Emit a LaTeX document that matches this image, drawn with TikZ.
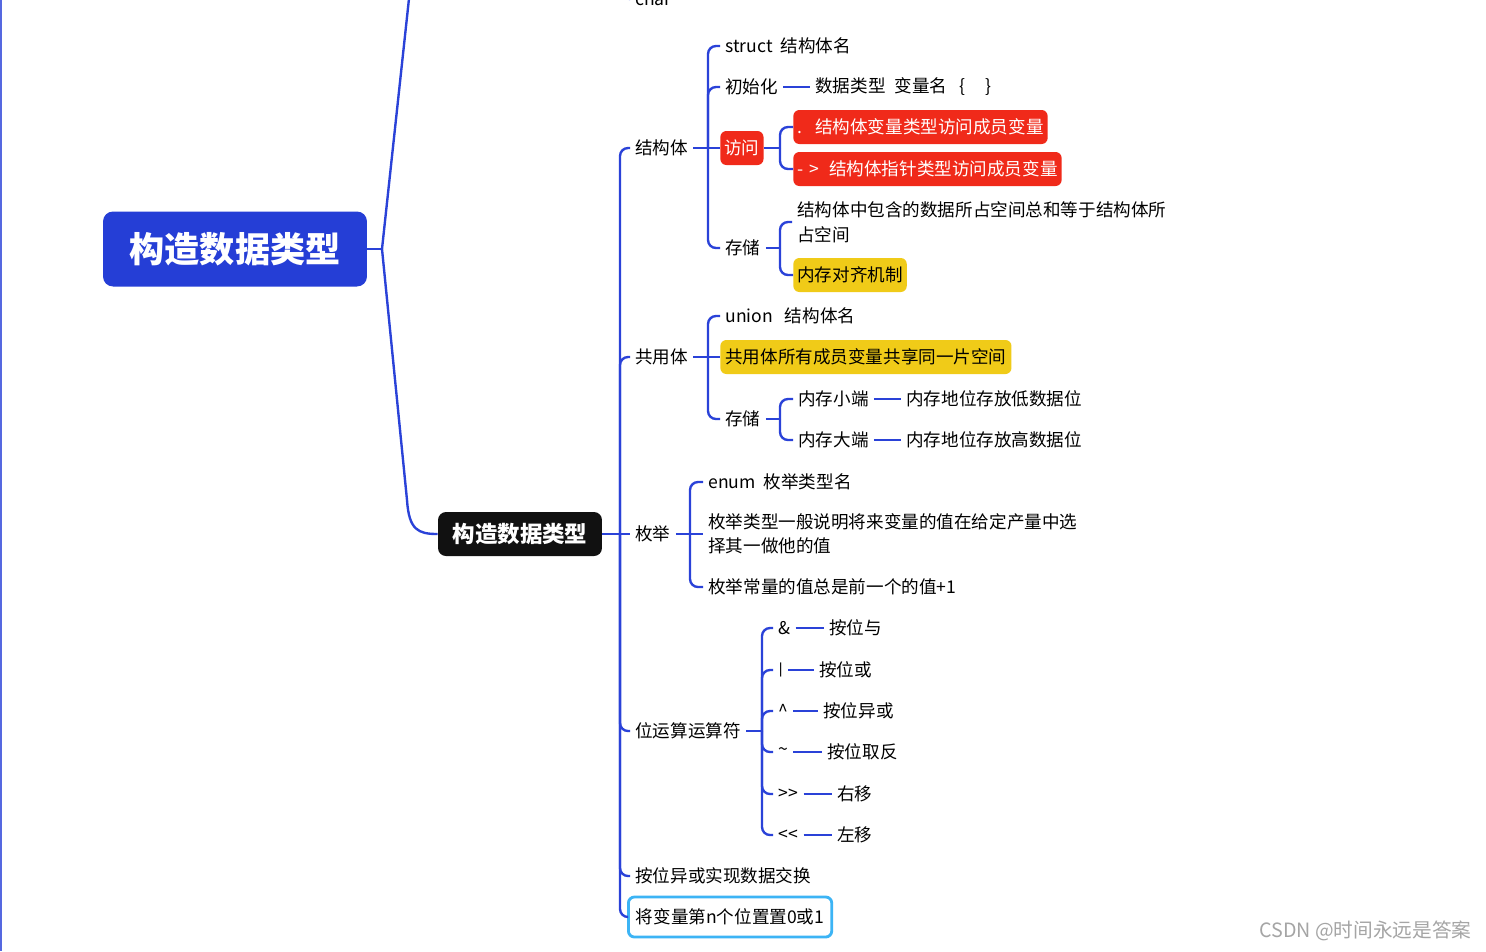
\documentclass[tikz,border=0pt]{standalone}
\usepackage{fontspec}
\setmainfont{Noto Sans CJK SC}
\definecolor{lnblue}{RGB}{42,66,216}
\definecolor{rootblue}{RGB}{37,62,214}
\definecolor{boxred}{RGB}{240,42,26}
\definecolor{boxyel}{RGB}{240,203,24}
\definecolor{boxcyan}{RGB}{60,180,245}
\definecolor{wmgray}{RGB}{165,165,165}
\definecolor{subblack}{RGB}{17,17,17}
\newcommand\fn{\fontsize{10.0}{14.0}\selectfont}
\begin{document}
\begin{tikzpicture}[x=0.02cm,y=-0.02cm,
 conn/.style={draw=lnblue,line width=1.35pt,rounded corners=0.16cm},
 straight/.style={draw=lnblue,line width=1.35pt},
 txt/.style={anchor=west,inner xsep=0.1cm,inner ysep=0.05cm,font=\fn,text=black},
 redbox/.style={anchor=west,fill=boxred,rounded corners=0.12cm,text=white,font=\fn,inner xsep=0.08cm,minimum height=0.68cm},
 yelbox/.style={anchor=west,fill=boxyel,rounded corners=0.12cm,text=black,font=\fn,inner xsep=0.08cm,minimum height=0.68cm},
]
\useasboundingbox (0,0) rectangle (1486,951);
\clip (0,0) rectangle (1486,951);
\fill[white] (0,0) rectangle (1486,951);
\draw[lnblue!80,line width=1pt] (1,0) -- (1,951);

% root and sub root
\node[fill=rootblue,rounded corners=0.2cm,minimum width=5.28cm,minimum height=1.5cm,text=white,font=\fontsize{20}{24}\selectfont\bfseries] (root) at (235,249) {构造数据类型};
\node[fill=subblack,rounded corners=0.16cm,minimum width=3.28cm,minimum height=0.88cm,text=white,font=\fontsize{12.8}{15}\selectfont\bfseries] (sub) at (520,534) {构造数据类型};

% main children
\node[txt] (chr) at (630,-1) {char};
\node[txt] (s1) at (630,148) {结构体};
\node[txt] (s2) at (630,357) {共用体};
\node[txt] (s3) at (630,534) {枚举};
\node[txt] (s4) at (630,731) {位运算运算符};
\node[txt] (s5) at (630,876) {按位异或实现数据交换};
\node[anchor=west,draw=boxcyan,line width=1.6pt,fill=white,rounded corners=0.12cm,minimum height=0.8cm,inner xsep=0.15cm,font=\fn] (s6) at (627,917) {将变量第n个位置置0或1};

% struct
\node[txt] (a1) at (720,46) {struct\hspace{0.16cm}结构体名};
\node[txt] (a2) at (720,87) {初始化};
\node[txt] (a2b) at (810,87) {数据类型\hspace{0.18cm}变量名\hspace{0.25cm}\{\hspace{0.4cm}\}};
\node[redbox] (a3) at (720,148) {访问};
\node[txt] (a4) at (720,248) {存储};
\node[redbox] (b1) at (793,127) {.\hspace{0.26cm}结构体变量类型访问成员变量};
\node[redbox] (b2) at (793,169) {-\hspace{0.12cm}>\hspace{0.2cm}结构体指针类型访问成员变量};
\node[txt,align=left,font=\fontsize{10.0}{14.2}\selectfont] (c1) at (792,222) {结构体中包含的数据所占空间总和等于结构体所\\占空间};
\node[yelbox] (c2) at (793,275) {内存对齐机制};

% union
\node[txt] (d1) at (720,316) {union\hspace{0.24cm}结构体名};
\node[yelbox,inner xsep=0.1cm] (d2) at (720,357) {共用体所有成员变量共享同一片空间};
\node[txt] (d3) at (720,419) {存储};
\node[txt] (e1) at (793,399) {内存小端};
\node[txt] (e1n) at (901,399) {内存地位存放低数据位};
\node[txt] (e2) at (793,440) {内存大端};
\node[txt] (e2n) at (901,440) {内存地位存放高数据位};

% enum
\node[txt] (f1) at (703,482) {enum\hspace{0.16cm}枚举类型名};
\node[txt,align=left,font=\fontsize{10.0}{13.7}\selectfont] (f2) at (703,534) {枚举类型一般说明将来变量的值在给定产量中选\\择其一做他的值};
\node[txt] (f3) at (703,587) {枚举常量的值总是前一个的值+1};

% bit ops
\node[txt] (g1) at (773,628) {\&};
\node[txt] (g1n) at (824,628) {按位与};
\node[txt] (g2) at (773,670) {\raisebox{0.4pt}{\scalebox{1}[0.72]{|}}};
\node[txt] (g2n) at (814,670) {按位或};
\node[txt] (g3) at (773,711) {\textasciicircum};
\node[txt] (g3n) at (818,711) {按位异或};
\node[txt] (g4) at (773,752) {\textasciitilde};
\node[txt] (g4n) at (822,752) {按位取反};
\node[txt] (g5) at (773,794) {>\kern0.3pt>};
\node[txt] (g5n) at (832,794) {右移};
\node[txt] (g6) at (773,835) {<\kern0.3pt<};
\node[txt] (g6n) at (832,835) {左移};

% watermark
\node[anchor=east,inner sep=0pt,text=wmgray,font=\fontsize{11.2}{13}\selectfont] (wm) at (1472,931) {CSDN @时间永远是答案};

% connectors: root
\coordinate (rj) at (382,249);
\coordinate (upend) at (411,-20);
\coordinate (lowbend) at (407,500);
\draw[straight] (root.east) -- (rj);
\draw[straight] (rj) -- (upend);
\draw[straight] (rj) -- (lowbend) .. controls (409,530) and (418,534) .. (sub.west);

% main trunk
\coordinate (tr) at (620,534);
\coordinate (chtop) at (622,-30);
\draw[conn] (chtop) |- (chr.west);
\draw[straight] (sub.east) -- (s3.west);
\foreach \n in {s1,s2,s4,s5,s6} \draw[conn] (tr) |- (\n.west);

% struct connectors
\coordinate (t1) at (708,148);
\draw[straight] (s1.east) -- (a3.west);
\foreach \n in {a1,a2,a4} \draw[conn] (t1) |- (\n.west);
\draw[straight] (a2.east) -- (a2b.west);
\coordinate (t2) at (780,148);
\draw[straight] (a3.east) -- (t2);
\draw[conn] (t2) |- (b1.west);
\draw[conn] (t2) |- (b2.west);
\coordinate (t3) at (780,248);
\draw[straight] (a4.east) -- (t3);
\draw[conn] (t3) |- (c1.west);
\draw[conn] (t3) |- (c2.west);

% union connectors
\coordinate (t4) at (708,357);
\draw[straight] (s2.east) -- (d2.west);
\draw[conn] (t4) |- (d1.west);
\draw[conn] (t4) |- (d3.west);
\coordinate (t5) at (780,419);
\draw[straight] (d3.east) -- (t5);
\draw[conn] (t5) |- (e1.west);
\draw[conn] (t5) |- (e2.west);
\draw[straight] (e1.east) -- (e1n.west);
\draw[straight] (e2.east) -- (e2n.west);

% enum connectors
\coordinate (t6) at (690,534);
\draw[straight] (s3.east) -- (f2.west);
\draw[conn] (t6) |- (f1.west);
\draw[conn] (t6) |- (f3.west);

% bit op connectors
\coordinate (t7) at (762,731);
\draw[straight] (s4.east) -- (t7);
\foreach \n in {g1,g2,g3,g4,g5,g6} {
  \draw[conn] (t7) |- (\n.west);
  \draw[straight] (\n.east) -- (\n n.west);
}
\end{tikzpicture}
\end{document}
